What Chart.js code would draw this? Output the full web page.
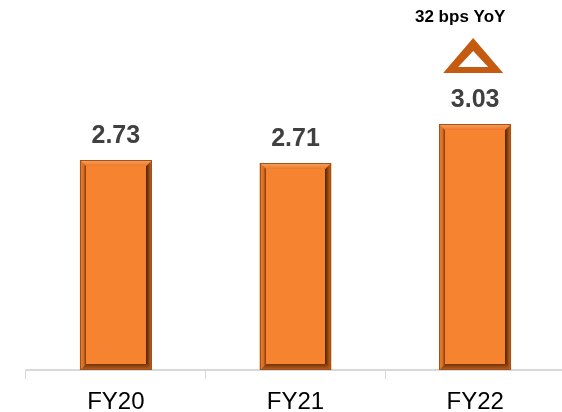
<!DOCTYPE html>
<html>
<head>
<meta charset="utf-8">
<script src="https://cdn.jsdelivr.net/npm/chart.js@4"></script>
<style>
	html, body { margin: 0; padding: 0; background: #ffffff; overflow: hidden; }
	#wrap { width: 565px; height: 425px; }
</style>
</head>
<body>
<div id="wrap"><canvas id="ratio_chart"></canvas></div>
<script>
// Données du graphique
const years = [ "FY20", "FY21", "FY22" ];
const ratio_values = [ 2.73, 2.71, 3.03 ];
const yoy_note = "32 bps YoY";

//
// Dessine le biseau des barres, les valeurs et la flèche YoY.
//
const bevel_plugin = {
	id: "bevel",
	afterDatasetsDraw( chart ) {
		const ctx = chart.ctx;
		const meta = chart.getDatasetMeta( 0 );
		meta.data.forEach( ( bar, i ) => {
			const left = Math.round( bar.x - bar.width / 2 );
			const right = Math.round( bar.x + bar.width / 2 );
			const top = Math.round( bar.y );
			const bottom = Math.round( bar.base );
			const b = 6;
			ctx.save();
			// bord droit sombre
			let g = ctx.createLinearGradient( right - b, 0, right, 0 );
			g.addColorStop( 0, "#4e2306" );
			g.addColorStop( 0.5, "#8e4512" );
			g.addColorStop( 1, "#d06d26" );
			ctx.fillStyle = g;
			ctx.beginPath();
			ctx.moveTo( right, top ); ctx.lineTo( right, bottom );
			ctx.lineTo( right - b, bottom - b ); ctx.lineTo( right - b, top + b );
			ctx.fill();
			// bas sombre
			g = ctx.createLinearGradient( 0, bottom - b, 0, bottom );
			g.addColorStop( 0, "#6e3309" );
			g.addColorStop( 1, "#c7621d" );
			ctx.fillStyle = g;
			ctx.beginPath();
			ctx.moveTo( left, bottom ); ctx.lineTo( right, bottom );
			ctx.lineTo( right - b, bottom - b ); ctx.lineTo( left + b, bottom - b );
			ctx.fill();
			// haut clair
			g = ctx.createLinearGradient( 0, top, 0, top + b );
			g.addColorStop( 0, "#f8a160" );
			g.addColorStop( 1, "#ee7a28" );
			ctx.fillStyle = g;
			ctx.beginPath();
			ctx.moveTo( left, top ); ctx.lineTo( right, top );
			ctx.lineTo( right - b, top + b ); ctx.lineTo( left + b, top + b );
			ctx.fill();
			// gauche
			g = ctx.createLinearGradient( left, 0, left + b, 0 );
			g.addColorStop( 0, "#f08030" );
			g.addColorStop( 0.6, "#d86c20" );
			g.addColorStop( 1, "#7a3a0e" );
			ctx.fillStyle = g;
			ctx.beginPath();
			ctx.moveTo( left, top ); ctx.lineTo( left + b, top + b );
			ctx.lineTo( left + b, bottom - b ); ctx.lineTo( left, bottom );
			ctx.fill();
			ctx.strokeStyle = "#a0521c";
			ctx.lineWidth = 1;
			ctx.strokeRect( left + 0.5, top + 0.5, right - left - 1, bottom - top - 1 );
			ctx.restore();

			// valeur au-dessus de la barre
			ctx.save();
			ctx.fillStyle = "#404040";
			ctx.font = "bold 25px 'Liberation Sans', Arial, sans-serif";
			ctx.textAlign = "center";
			ctx.textBaseline = "alphabetic";
			ctx.fillText( ratio_values[ i ].toFixed( 2 ), bar.x, top - 17 );
			ctx.restore();
		} );

		// flèche et note sur la dernière barre
		const last = meta.data[ meta.data.length - 1 ];
		const x = last.x;
		ctx.save();
		ctx.fillStyle = "#c55a11";
		ctx.beginPath();
		ctx.moveTo( x - 2, 38 ); ctx.lineTo( x + 28, 73 ); ctx.lineTo( x - 32, 73 ); ctx.closePath();
		ctx.moveTo( x - 2, 51 ); ctx.lineTo( x - 17, 67 ); ctx.lineTo( x + 13, 67 ); ctx.closePath();
		ctx.fill( "evenodd" );
		ctx.fillStyle = "#000000";
		ctx.font = "bold 17px 'Liberation Sans', Arial, sans-serif";
		ctx.textAlign = "center";
		ctx.textBaseline = "alphabetic";
		ctx.fillText( yoy_note, x - 15, 22 );
		ctx.restore();
	}
};

new Chart( document.getElementById( "ratio_chart" ),
	{
		type: "bar",
		data: {
			labels: years,
			datasets: [
				{
					data: ratio_values,
					base: 1,
					backgroundColor: "#f5832f",
					borderWidth: 0,
					barPercentage: 0.4,
					categoryPercentage: 1
				}
			]
		},
		options: {
			responsive: true,
			maintainAspectRatio: false,
			animation: false,
			layout: {
				padding: { top: 43, left: 26, right: 0, bottom: 0 }
			},
			plugins: {
				legend: { display: false },
				tooltip: { enabled: false }
			},
			scales: {
				x: {
					grid: {
						drawOnChartArea: false,
						color: "#d9d9d9",
						tickLength: 9,
						offset: true
					},
					border: {
						display: true,
						color: "#d9d9d9",
						width: 2
					},
					ticks: {
						color: "#000000",
						padding: 11,
						font: {
							size: 24,
							lineHeight: 1,
							family: "'Liberation Sans', Arial, sans-serif"
						}
					}
				},
				y: {
					display: false,
					min: 1,
					max: 3.7
				}
			}
		},
		plugins: [ bevel_plugin ]
	} );
</script>
</body>
</html>
